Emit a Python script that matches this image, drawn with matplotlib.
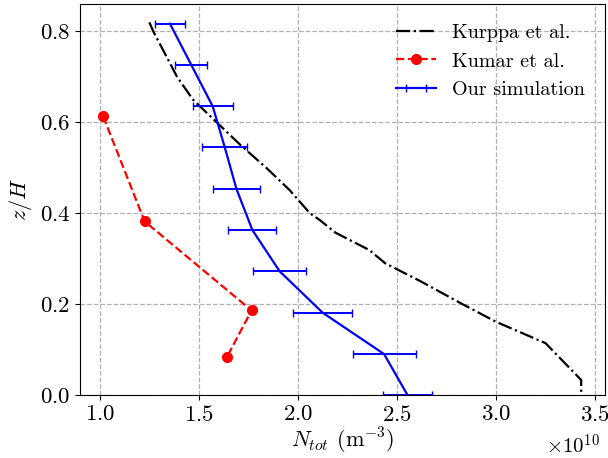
import numpy as np
import matplotlib
matplotlib.use("Agg")
import matplotlib.pyplot as plt

plt.rcParams['font.family'] = 'serif'
plt.rcParams['font.serif'] = ['cmr10']
plt.rcParams['mathtext.fontset'] = 'cm'
plt.rcParams['axes.formatter.use_mathtext'] = True
plt.rcParams['axes.unicode_minus'] = False
plt.rcParams['font.size'] = 16

# Kurppa et al. (x in units of 1e10 m^-3)
kurppa_z = [0.82, 0.80, 0.75, 0.70, 0.65, 0.60, 0.55, 0.50, 0.45, 0.40,
            0.385, 0.357, 0.319, 0.29, 0.25, 0.20, 0.161, 0.114, 0.033, 0.0]
kurppa_n = [1.25, 1.27, 1.33, 1.39, 1.47, 1.59, 1.71, 1.84, 1.96, 2.06,
            2.11, 2.19, 2.36, 2.44, 2.62, 2.83, 3.00, 3.25, 3.43, 3.43]

# Kumar et al.
kumar_z = [0.613, 0.382, 0.186, 0.083]
kumar_n = [1.017, 1.226, 1.766, 1.641]

# our simulation
sim_z = [0.817, 0.726, 0.635, 0.546, 0.453, 0.363, 0.272, 0.181, 0.090, 0.0]
sim_n = [1.354, 1.462, 1.570, 1.630, 1.690, 1.770, 1.908, 2.125, 2.435, 2.553]
sim_err = [0.076, 0.081, 0.101, 0.114, 0.119, 0.121, 0.134, 0.149, 0.159, 0.126]

fig = plt.figure(figsize=(6.08, 4.58), dpi=100)
ax = fig.add_axes([0.1316, 0.1376, 0.8634, 0.8534])

ax.plot(kurppa_n, kurppa_z, color='k', linestyle='-.',
        linewidth=1.6, label='Kurppa et al.')
ax.plot(kumar_n, kumar_z, color='r', linestyle='--',
        marker='o', markersize=7, linewidth=1.6, label='Kumar et al.')
ax.errorbar(sim_n, sim_z, xerr=sim_err,
            color='b', linewidth=1.6, elinewidth=1.4, capsize=3,
            label='Our simulation')

ax.set_xlim(0.9, 3.55)
ax.set_ylim(0, 0.86)
ax.set_xticks(np.arange(1.0, 3.51, 0.5))
ax.set_yticks([0.0, 0.2, 0.4, 0.6, 0.8])
ax.tick_params(labelsize=16.5)
ax.grid(True, linestyle='--', color='#b0b0b0', linewidth=0.9)

ax.set_xlabel(r'$N_{tot}$ (m$^{-3}$)', fontsize=16, labelpad=1)
ax.set_ylabel(r'$z/H$', fontsize=16)

# scale factor of the x axis (values are in units of 1e10)
ax.text(0.99, -0.098, r'$\times10^{10}$', transform=ax.transAxes,
        ha='right', va='top', fontsize=15)

ax.legend(loc='upper right', frameon=False, fontsize=14.5,
          handlelength=2.0, borderaxespad=0.6)

fig.savefig('out.png', dpi=100)
